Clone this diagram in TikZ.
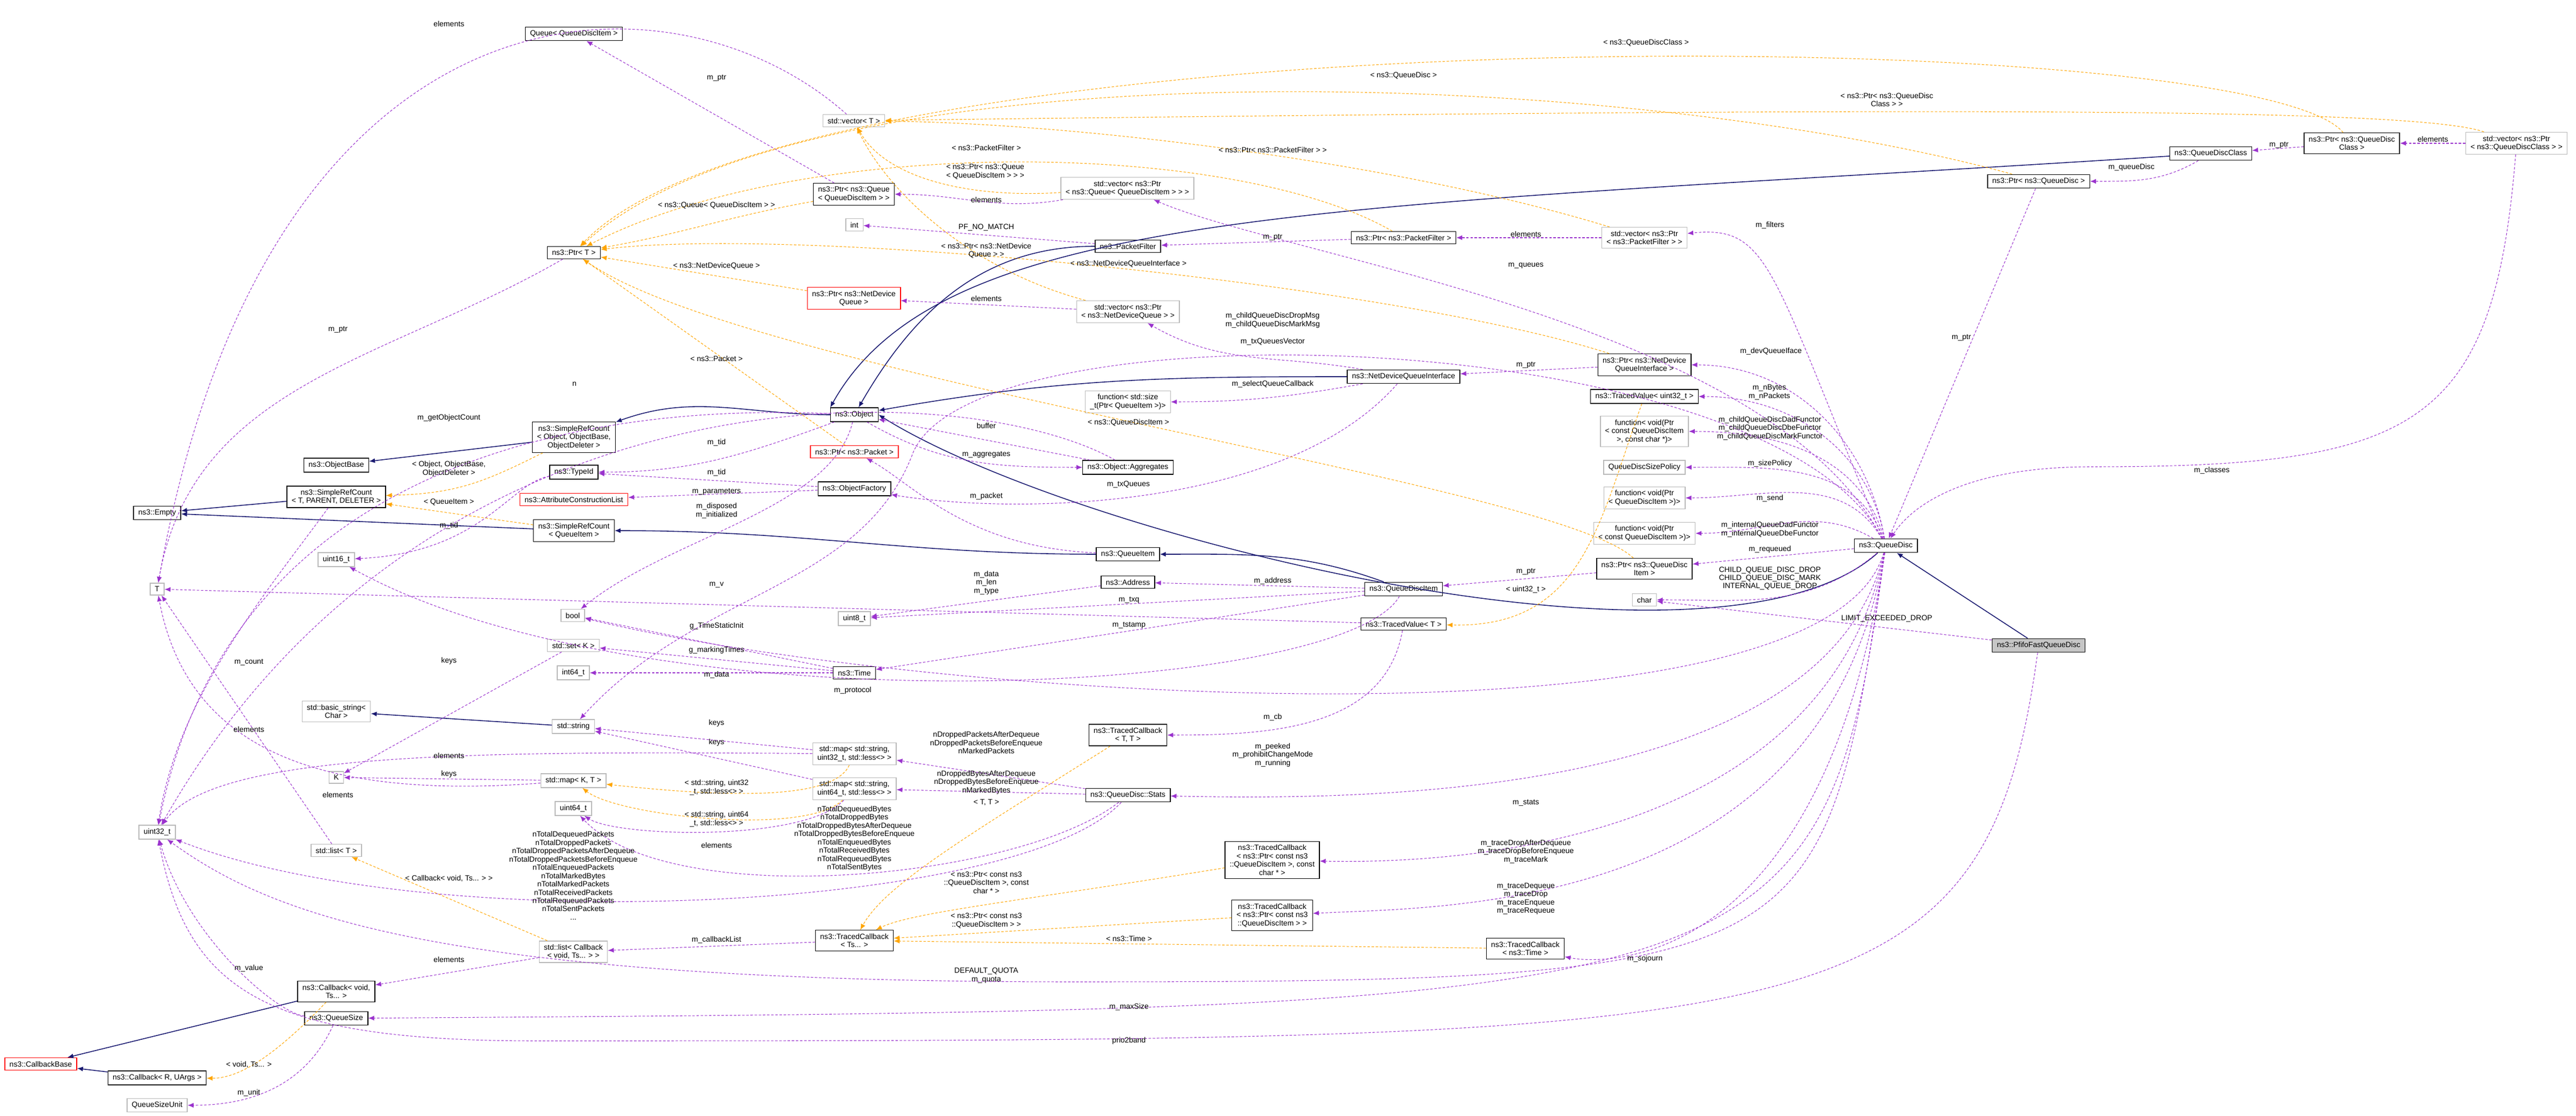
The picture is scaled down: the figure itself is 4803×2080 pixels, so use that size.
\documentclass[tikz,border=0pt]{standalone}
\usepackage{fontspec}
\setmainfont{Liberation Sans}
\usetikzlibrary{arrows.meta}
\definecolor{usecol}{RGB}{154,50,205}
\definecolor{tplcol}{RGB}{255,165,0}
\definecolor{inhcol}{RGB}{25,25,112}
\tikzset{
  cls/.style={draw=black,fill=white,line width=0.4pt,inner xsep=2.5pt,inner ysep=1.8pt,align=center,font=\fontsize{4}{4.4}\selectfont},
  ext/.style={cls,draw=gray!55},
  bad/.style={cls,draw=red},
  cur/.style={cls,fill=gray!45},
  lbl/.style={inner sep=0.3pt,align=center,font=\fontsize{4}{4.4}\selectfont},
  use/.style={draw=usecol,dash pattern=on 1.3pt off 0.9pt,line width=0.3pt,-{Latex[length=1.1mm,width=0.9mm]}},
  tmpl/.style={use,draw=tplcol},
  inh/.style={draw=inhcol,line width=0.45pt,-{Latex[length=1.1mm,width=0.9mm]}},
}
\begin{document}
\begin{tikzpicture}[x=0.01cm,y=-0.01cm]
  \useasboundingbox (0,0) rectangle (4803,2080);
  % classes, left to right
  \node[cls] (qq) at (1070,63) {Queue< QueueDiscItem >};
  \node[ext] (vecT) at (1592,225) {std::vector< T >};
  \node[cls] (ptrT) at (1070,471) {ns3::Ptr< T >};
  \node[cls] (ptrQ) at (1592,362) {ns3::Ptr< ns3::Queue\\< QueueDiscItem > >};
  \node[ext] (intN) at (1593,419) {int};
  \node[bad] (ptrNDQ) at (1592,556) {ns3::Ptr< ns3::NetDevice\\Queue >};
  \node[cls] (obj) at (1593,773) {ns3::Object};
  \node[bad] (ptrPkt) at (1593,842) {ns3::Ptr< ns3::Packet >};
  \node[cls] (objf) at (1593,911) {ns3::ObjectFactory};
  \node[cls] (srcObj) at (1070,815) {ns3::SimpleRefCount\\< Object, ObjectBase,\\ObjectDeleter >};
  \node[cls] (objb) at (627,867) {ns3::ObjectBase};
  \node[cls] (tid) at (1070,880) {ns3::TypeId};
  \node[bad] (acl) at (1070,931) {ns3::AttributeConstructionList};
  \node[cls] (srcT) at (627,926) {ns3::SimpleRefCount\\< T, PARENT, DELETER >};
  \node[cls] (empty) at (293,956) {ns3::Empty};
  \node[cls] (srcQI) at (1070,989) {ns3::SimpleRefCount\\< QueueItem >};
  \node[ext] (u16) at (627,1043) {uint16\_t};
  \node[ext] (Tn) at (293,1098) {T};
  \node[ext] (boolN) at (1068,1147) {bool};
  \node[ext] (u8) at (1593,1153) {uint8\_t};
  \node[ext] (setK) at (1069,1203) {std::set< K >};
  \node[cls] (timeN) at (1593,1254) {ns3::Time};
  \node[ext] (i64) at (1069,1254) {int64\_t};
  \node[ext] (bstr) at (627,1326) {std::basic\_string<\\Char >};
  \node[ext] (strN) at (1069,1354) {std::string};
  \node[ext] (mapU32) at (1593,1405) {std::map< std::string,\\uint32\_t, std::less<> >};
  \node[ext] (mapU64) at (1593,1470) {std::map< std::string,\\uint64\_t, std::less<> >};
  \node[ext] (Kn) at (627,1449) {K};
  \node[ext] (mapKT) at (1069,1455) {std::map< K, T >};
  \node[ext] (u64) at (1069,1507) {uint64\_t};
  \node[ext] (u32) at (293,1551) {uint32\_t};
  \node[ext] (listT) at (627,1585) {std::list< T >};
  \node[ext] (listCb) at (1069,1774) {std::list< Callback\\< void, Ts... > >};
  \node[cls] (cbV) at (627,1848) {ns3::Callback< void,\\Ts... >};
  \node[cls] (qsize) at (627,1898) {ns3::QueueSize};
  \node[bad] (cbBase) at (76,1983) {ns3::CallbackBase};
  \node[cls] (cbR) at (293,2009) {ns3::Callback< R, UArgs >};
  \node[ext] (qsu) at (293,2060) {QueueSizeUnit};
  \node[cls] (tcTs) at (1593,1753) {ns3::TracedCallback\\< Ts... >};
  \node[ext] (vecPQ) at (2102,351) {std::vector< ns3::Ptr\\< ns3::Queue< QueueDiscItem > > >};
  \node[cls] (pf) at (2103,459) {ns3::PacketFilter};
  \node[cls] (ptrPF) at (2617,443) {ns3::Ptr< ns3::PacketFilter >};
  \node[ext] (vecPF) at (3066,443) {std::vector< ns3::Ptr\\< ns3::PacketFilter > >};
  \node[ext] (vecNDQ) at (2103,581) {std::vector< ns3::Ptr\\< ns3::NetDeviceQueue > >};
  \node[cls] (ndqi) at (2617,702) {ns3::NetDeviceQueueInterface};
  \node[cls] (ptrNDQI) at (3066,680) {ns3::Ptr< ns3::NetDevice\\QueueInterface >};
  \node[ext] (fnSize) at (2103,749) {function< std::size\\\_t(Ptr< QueueItem >)>};
  \node[cls] (tvU32) at (3066,739) {ns3::TracedValue< uint32\_t >};
  \node[ext] (fnDrop) at (3066,804) {function< void(Ptr\\< const QueueDiscItem\\>, const char *)>};
  \node[ext] (qdsp) at (3066,871) {QueueDiscSizePolicy};
  \node[ext] (fnSend) at (3066,928) {function< void(Ptr\\< QueueDiscItem >)>};
  \node[ext] (fnInt) at (3066,994) {function< void(Ptr\\< const QueueDiscItem >)>};
  \node[cls] (aggr) at (2103,871) {ns3::Object::Aggregates};
  \node[cls] (qitem) at (2103,1033) {ns3::QueueItem};
  \node[cls] (addr) at (2103,1085) {ns3::Address};
  \node[cls] (qdi) at (2617,1098) {ns3::QueueDiscItem};
  \node[cls] (ptrQDI) at (3066,1060) {ns3::Ptr< ns3::QueueDisc\\Item >};
  \node[ext] (charN) at (3066,1118) {char};
  \node[cls] (tvT) at (2617,1163) {ns3::TracedValue< T >};
  \node[cls] (tcTT) at (2103,1370) {ns3::TracedCallback\\< T, T >};
  \node[cls] (stats) at (2103,1482) {ns3::QueueDisc::Stats};
  \node[cls] (tcPC) at (2372,1603) {ns3::TracedCallback\\< ns3::Ptr< const ns3\\::QueueDiscItem >, const\\char * >};
  \node[cls] (tcP) at (2372,1706) {ns3::TracedCallback\\< ns3::Ptr< const ns3\\::QueueDiscItem > >};
  \node[cls] (tcTime) at (2844,1768) {ns3::TracedCallback\\< ns3::Time >};
  \node[cls] (qdc) at (4122,286) {ns3::QueueDiscClass};
  \node[cls] (ptrQDC) at (4385,267) {ns3::Ptr< ns3::QueueDisc\\Class >};
  \node[ext] (vecQDC) at (4692,267) {std::vector< ns3::Ptr\\< ns3::QueueDiscClass > >};
  \node[cls] (ptrQD) at (3801,338) {ns3::Ptr< ns3::QueueDisc >};
  \node[cls] (qd) at (3516,1017) {ns3::QueueDisc};
  \node[cur] (pfifo) at (3801,1203) {ns3::PfifoFastQueueDisc};

  % inheritance
  \draw[inh] (srcObj) -- (objb);
  \draw[inh] (obj) to[out=180,in=20] (srcObj);
  \draw[inh] (srcT) -- (empty);
  \draw[inh] (srcQI) -- (empty);
  \draw[inh] (qitem) to[out=180,in=0] (srcQI);
  \draw[inh] (qdi) to[out=160,in=0] (qitem);
  \draw[inh] (pf) to[out=180,in=60] (obj);
  \draw[inh] (ndqi) to[out=180,in=10] (obj);
  \draw[inh] (qdc) .. controls (2500,390) and (1760,380) .. (obj.north west);
  \draw[inh] (qd) .. controls (3200,1300) and (2000,1000) .. (obj.east);
  \draw[inh] (strN) -- (bstr);
  \draw[inh] (cbV) -- (cbBase);
  \draw[inh] (cbR) -- (cbBase);
  \draw[inh] (pfifo) -- (qd);

  % members
  \draw[use] (ptrQ) -- (qq);
  \draw[use] (vecT) .. controls (1250,-80) and (500,-60) .. (Tn);
  \draw[use] (ptrT) to[out=210,in=80] (Tn);
  \draw[use] (vecPQ) to[out=190,in=0] (ptrQ);
  \draw[use] (pf) -- (intN);
  \draw[use] (ptrPF) -- (pf);
  \draw[use] (vecPF) -- (ptrPF);
  \draw[use] (qd) .. controls (3300,500) and (3300,420) .. (vecPF);
  \draw[use] (qd) .. controls (3300,600) and (2400,480) .. (vecPQ);
  \draw[use] (vecNDQ) -- (ptrNDQ);
  \draw[use] (ndqi) to[out=170,in=-30] (vecNDQ);
  \draw[use] (ptrNDQI) -- (ndqi);
  \draw[use] (qd) to[out=100,in=0] (ptrNDQI);
  \draw[use] (ndqi) to[out=190,in=0] (fnSize);
  \draw[use] (ndqi) .. controls (2400,950) and (1900,960) .. (objf);
  \draw[use] (qd) to[out=100,in=0] (tvU32);
  \draw[use] (qd) to[out=105,in=0] (fnDrop);
  \draw[use] (qd) to[out=110,in=0] (qdsp);
  \draw[use] (qd) to[out=120,in=0] (fnSend);
  \draw[use] (qd) to[out=150,in=0] (fnInt);
  \draw[use] (qd) -- (ptrQDI);
  \draw[use] (qd) .. controls (3300,600) and (1800,560) .. (1700,850) .. controls (1600,1100) and (1300,1100) .. (strN);
  \draw[use] (ptrQDI) -- (qdi);
  \draw[use] (qd) to[out=-140,in=0] (charN);
  \draw[use] (pfifo) -- (charN);
  \draw[use] (qdi) -- (addr);
  \draw[use] (qdi) -- (u8);
  \draw[use] (addr) -- (u8);
  \draw[use] (qdi) -- (timeN);
  \draw[use] (qdi) .. controls (2500,1300) and (1200,1360) .. (u16);
  \draw[use] (qitem) .. controls (1800,1020) and (1700,900) .. (ptrPkt);
  \draw[use] (tvT) to[out=-100,in=0] (tcTT);
  \draw[use] (tvT) -- (Tn);
  \draw[use] (qd) .. controls (3400,1420) and (1700,1300) .. (boolN);
  \draw[use] (obj) .. controls (1550,950) and (1250,1000) .. (boolN);
  \draw[use] (timeN) -- (boolN);
  \draw[use] (timeN) -- (setK);
  \draw[use] (timeN) -- (i64);
  \draw[use] (setK) -- (Kn);
  \draw[use] (mapKT) -- (Kn);
  \draw[use] (mapKT) .. controls (600,1490) and (350,1400) .. (Tn);
  \draw[use] (mapU32) -- (strN);
  \draw[use] (mapU64) -- (strN);
  \draw[use] (mapU32) .. controls (900,1400) and (400,1400) .. (u32);
  \draw[use] (mapU64) .. controls (1500,1570) and (1150,1560) .. (u64);
  \draw[use] (stats) -- (mapU32);
  \draw[use] (stats) -- (mapU64);
  \draw[use] (stats) .. controls (1900,1700) and (800,1750) .. (u32);
  \draw[use] (stats) .. controls (1900,1640) and (1250,1700) .. (u64);
  \draw[use] (qd) .. controls (3400,1500) and (2500,1490) .. (stats);
  \draw[use] (qd) .. controls (3400,1580) and (2700,1610) .. (tcPC);
  \draw[use] (qd) .. controls (3400,1700) and (2700,1690) .. (tcP);
  \draw[use] (qd) .. controls (3400,1800) and (3000,1800) .. (tcTime);
  \draw[use] (qd) .. controls (3400,1800) and (3400,1830) .. (2000,1830) .. controls (800,1830) and (500,1700) .. (u32);
  \draw[use] (qd) .. controls (3400,1880) and (3300,1880) .. (qsize);
  \draw[use] (pfifo) .. controls (3700,1940) and (3400,1940) .. (1000,1940) .. controls (500,1940) and (350,1850) .. (u32);
  \draw[use] (qsize) .. controls (520,1890) and (350,1750) .. (u32);
  \draw[use] (qsize) .. controls (580,2000) and (500,2060) .. (qsu);
  \draw[use] (tcTs) -- (listCb);
  \draw[use] (listCb) -- (cbV);
  \draw[use] (listT) -- (Tn);
  \draw[use] (srcT) .. controls (500,1100) and (330,1300) .. (u32);
  \draw[use] (obj) .. controls (1300,760) and (450,760) .. (u32);
  \draw[use] (aggr) .. controls (1800,700) and (800,660) .. (u32);
  \draw[use] (obj) to[out=200,in=0] (tid);
  \draw[use] (objf) -- (tid);
  \draw[use] (objf) -- (acl);
  \draw[use] (obj) to[out=-30,in=180] (aggr);
  \draw[use] (aggr) -- (obj);
  \draw[use] (tid) .. controls (950,900) and (900,1030) .. (u16);
  \draw[use] (vecQDC) .. controls (4650,800) and (4500,870) .. (3900,870) .. controls (3650,870) and (3560,950) .. (qd);
  \draw[use] (ptrQDC) -- (qdc);
  \draw[use] (vecQDC) -- (ptrQDC);
  \draw[use] (qdc) to[out=-150,in=0] (ptrQD);
  \draw[use] (ptrQD) -- (qd);

  % template instances
  \draw[tmpl] (ptrQ) to[out=190,in=10] (ptrT);
  \draw[tmpl] (ptrNDQ) -- (ptrT);
  \draw[tmpl] (ptrPkt) -- (ptrT);
  \draw[tmpl] (ptrPF) .. controls (2300,260) and (1500,250) .. (ptrT);
  \draw[tmpl] (ptrQD) .. controls (3000,120) and (1500,80) .. (ptrT);
  \draw[tmpl] (ptrQDC) .. controls (4200,40) and (1500,20) .. (ptrT);
  \draw[tmpl] (ptrNDQI) .. controls (2600,530) and (1500,420) .. (ptrT);
  \draw[tmpl] (ptrQDI) .. controls (2900,900) and (1400,700) .. (ptrT);
  \draw[tmpl] (vecPQ) .. controls (1800,370) and (1650,330) .. (vecT);
  \draw[tmpl] (vecPF) .. controls (2600,300) and (2000,230) .. (vecT);
  \draw[tmpl] (vecNDQ) .. controls (1800,500) and (1650,350) .. (vecT);
  \draw[tmpl] (vecQDC) .. controls (4500,200) and (3600,200) .. (vecT);
  \draw[tmpl] (srcObj) .. controls (900,900) and (850,920) .. (srcT);
  \draw[tmpl] (srcQI) -- (srcT);
  \draw[tmpl] (mapU32) .. controls (1550,1500) and (1300,1480) .. (mapKT);
  \draw[tmpl] (mapU64) .. controls (1500,1560) and (1150,1520) .. (mapKT);
  \draw[tmpl] (listCb) -- (listT);
  \draw[tmpl] (cbV) .. controls (520,1960) and (450,2010) .. (cbR);
  \draw[tmpl] (tvU32) .. controls (2980,980) and (2950,1170) .. (tvT);
  \draw[tmpl] (tcTT) .. controls (1800,1560) and (1650,1650) .. (tcTs);
  \draw[tmpl] (tcPC) .. controls (1900,1680) and (1700,1700) .. (tcTs);
  \draw[tmpl] (tcP) -- (tcTs);
  \draw[tmpl] (tcTime) -- (tcTs);

  % labels
  \node[lbl] (l1) at (837,44) {elements};
  \node[lbl] (l2) at (1336,145) {m\_ptr};
  \node[lbl] (l3) at (1336,383) {< ns3::Queue< QueueDiscItem > >};
  \node[lbl] (l4) at (1336,496) {< ns3::NetDeviceQueue >};
  \node[lbl] (l5) at (630,614) {m\_ptr};
  \node[lbl] (l6) at (1336,668) {< ns3::Packet >};
  \node[lbl] (l7) at (1071,716) {n};
  \node[lbl] (l8) at (837,779) {m\_getObjectCount};
  \node[lbl] (l9) at (1336,825) {m\_tid};
  \node[lbl] (l10) at (837,874) {< Object, ObjectBase,\\ObjectDeleter >};
  \node[lbl] (l11) at (1336,881) {m\_tid};
  \node[lbl] (l12) at (1336,916) {m\_parameters};
  \node[lbl] (l13) at (1336,952) {m\_disposed\\m\_initialized};
  \node[lbl] (l14) at (837,936) {< QueueItem >};
  \node[lbl] (l15) at (837,980) {m\_tid};
  \node[lbl] (l16) at (1336,1090) {m\_v};
  \node[lbl] (l17) at (1336,1167) {g\_TimeStaticInit};
  \node[lbl] (l18) at (1336,1212) {g\_markingTimes};
  \node[lbl] (l19) at (1336,1258) {m\_data};
  \node[lbl] (l20) at (1590,1287) {m\_protocol};
  \node[lbl] (l21) at (837,1232) {keys};
  \node[lbl] (l22) at (464,1234) {m\_count};
  \node[lbl] (l23) at (464,1359) {elements};
  \node[lbl] (l24) at (1336,1348) {keys};
  \node[lbl] (l25) at (1336,1384) {keys};
  \node[lbl] (l26) at (837,1408) {elements};
  \node[lbl] (l27) at (837,1443) {keys};
  \node[lbl] (l28) at (630,1481) {elements};
  \node[lbl] (l29) at (1336,1468) {< std::string, uint32\\\_t, std::less<> >};
  \node[lbl] (l30) at (1336,1527) {< std::string, uint64\\\_t, std::less<> >};
  \node[lbl] (l31) at (1336,1575) {elements};
  \node[lbl] (l32) at (1069,1632) {nTotalDequeuedPackets\\nTotalDroppedPackets\\nTotalDroppedPacketsAfterDequeue\\nTotalDroppedPacketsBeforeEnqueue\\nTotalEnqueuedPackets\\nTotalMarkedBytes\\nTotalMarkedPackets\\nTotalReceivedPackets\\nTotalRequeuedPackets\\nTotalSentPackets\\...};
  \node[lbl] (l33) at (1593,1563) {nTotalDequeuedBytes\\nTotalDroppedBytes\\nTotalDroppedBytesAfterDequeue\\nTotalDroppedBytesBeforeEnqueue\\nTotalEnqueuedBytes\\nTotalReceivedBytes\\nTotalRequeuedBytes\\nTotalSentBytes};
  \node[lbl] (l34) at (837,1637) {< Callback< void, Ts... > >};
  \node[lbl] (l35) at (1336,1752) {m\_callbackList};
  \node[lbl] (l36) at (837,1788) {elements};
  \node[lbl] (l37) at (464,1805) {m\_value};
  \node[lbl] (l38) at (464,1984) {< void, Ts... >};
  \node[lbl] (l39) at (464,2037) {m\_unit};
  \node[lbl] (l40) at (3069,80) {< ns3::QueueDiscClass >};
  \node[lbl] (l41) at (2617,141) {< ns3::QueueDisc >};
  \node[lbl] (l42) at (1839,275) {< ns3::PacketFilter >};
  \node[lbl] (l43) at (2373,279) {< ns3::Ptr< ns3::PacketFilter > >};
  \node[lbl] (l44) at (1837,320) {< ns3::Ptr< ns3::Queue\\< QueueDiscItem > > >};
  \node[lbl] (l45) at (1839,372) {elements};
  \node[lbl] (l46) at (1839,424) {PF\_NO\_MATCH};
  \node[lbl] (l47) at (2373,442) {m\_ptr};
  \node[lbl] (l48) at (2845,436) {elements};
  \node[lbl] (l49) at (1839,467) {< ns3::Ptr< ns3::NetDevice\\Queue > >};
  \node[lbl] (l50) at (2104,492) {< ns3::NetDeviceQueueInterface >};
  \node[lbl] (l51) at (2845,495) {m\_queues};
  \node[lbl] (l52) at (1839,556) {elements};
  \node[lbl] (l53) at (2373,597) {m\_childQueueDiscDropMsg\\m\_childQueueDiscMarkMsg};
  \node[lbl] (l54) at (2373,637) {m\_txQueuesVector};
  \node[lbl] (l55) at (2845,680) {m\_ptr};
  \node[lbl] (l56) at (2373,716) {m\_selectQueueCallback};
  \node[lbl] (l57) at (2104,788) {< ns3::QueueDiscItem >};
  \node[lbl] (l58) at (1839,793) {buffer};
  \node[lbl] (l59) at (1839,847) {m\_aggregates};
  \node[lbl] (l60) at (2104,903) {m\_txQueues};
  \node[lbl] (l61) at (1839,925) {m\_packet};
  \node[lbl] (l62) at (1839,1086) {m\_data\\m\_len\\m\_type};
  \node[lbl] (l63) at (2373,1083) {m\_address};
  \node[lbl] (l64) at (2105,1118) {m\_txq};
  \node[lbl] (l65) at (2845,1065) {m\_ptr};
  \node[lbl] (l66) at (2845,1099) {< uint32\_t >};
  \node[lbl] (l67) at (2105,1165) {m\_tstamp};
  \node[lbl] (l68) at (2373,1337) {m\_cb};
  \node[lbl] (l69) at (1839,1384) {nDroppedPacketsAfterDequeue\\nDroppedPacketsBeforeEnqueue\\nMarkedPackets};
  \node[lbl] (l70) at (2373,1407) {m\_peeked\\m\_prohibitChangeMode\\m\_running};
  \node[lbl] (l71) at (1839,1458) {nDroppedBytesAfterDequeue\\nDroppedBytesBeforeEnqueue\\nMarkedBytes};
  \node[lbl] (l72) at (1839,1496) {< T, T >};
  \node[lbl] (l73) at (2845,1496) {m\_stats};
  \node[lbl] (l74) at (1839,1645) {< ns3::Ptr< const ns3\\::QueueDiscItem >, const\\char * >};
  \node[lbl] (l75) at (2845,1587) {m\_traceDropAfterDequeue\\m\_traceDropBeforeEnqueue\\m\_traceMark};
  \node[lbl] (l76) at (1839,1716) {< ns3::Ptr< const ns3\\::QueueDiscItem > >};
  \node[lbl] (l77) at (2845,1675) {m\_traceDequeue\\m\_traceDrop\\m\_traceEnqueue\\m\_traceRequeue};
  \node[lbl] (l78) at (2105,1749) {< ns3::Time >};
  \node[lbl] (l79) at (3067,1787) {m\_sojourn};
  \node[lbl] (l80) at (1839,1818) {DEFAULT\_QUOTA\\m\_quota};
  \node[lbl] (l81) at (2105,1877) {m\_maxSize};
  \node[lbl] (l82) at (2105,1940) {prio2band};
  \node[lbl] (l83) at (3518,186) {< ns3::Ptr< ns3::QueueDisc\\Class > >};
  \node[lbl] (l84) at (4536,259) {elements};
  \node[lbl] (l85) at (4249,270) {m\_ptr};
  \node[lbl] (l86) at (3974,312) {m\_queueDisc};
  \node[lbl] (l87) at (3300,420) {m\_filters};
  \node[lbl] (l88) at (3302,655) {m\_devQueueIface};
  \node[lbl] (l89) at (3299,731) {m\_nBytes\\m\_nPackets};
  \node[lbl] (l90) at (3300,798) {m\_childQueueDiscDadFunctor\\m\_childQueueDiscDbeFunctor\\m\_childQueueDiscMarkFunctor};
  \node[lbl] (l91) at (3300,864) {m\_sizePolicy};
  \node[lbl] (l92) at (3300,929) {m\_send};
  \node[lbl] (l93) at (3300,987) {m\_internalQueueDadFunctor\\m\_internalQueueDbeFunctor};
  \node[lbl] (l94) at (3300,1024) {m\_requeued};
  \node[lbl] (l95) at (3657,629) {m\_ptr};
  \node[lbl] (l96) at (4124,877) {m\_classes};
  \node[lbl] (l97) at (3300,1078) {CHILD\_QUEUE\_DISC\_DROP\\CHILD\_QUEUE\_DISC\_MARK\\INTERNAL\_QUEUE\_DROP};
  \node[lbl] (l98) at (3518,1153) {LIMIT\_EXCEEDED\_DROP};
\end{tikzpicture}
\end{document}
